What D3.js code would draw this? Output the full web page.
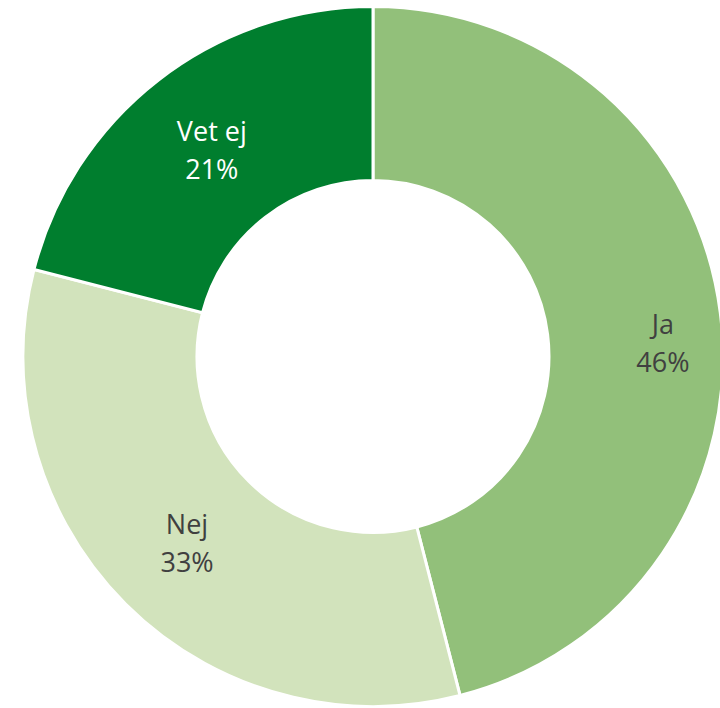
<!DOCTYPE html>
<html>
<head>
<meta charset="utf-8">
<script src="https://cdn.jsdelivr.net/npm/d3@7"></script>
<style>
  body { margin: 0; background: #fff; }
  svg text { font-family: "Open Sans", Lato, sans-serif; }
</style>
</head>
<body>
<div id="chart"></div>
<script>
var w = 720;
var h = 708;

var categories = ["Ja", "Nej", "Vet ej"];
var values = [46, 33, 21];
var colors = ["#92c07a", "#d2e3bc", "#007e2e"];
var textColors = ["#404040", "#404040", "#ffffff"];

var cx = 373, cy = 356.5;
var outerR = 350, innerR = 176;

// excel nudged the Ja label a bit
var labelNudge = [[29, 18], [0, 0], [0, 0]];

var data = categories.map(function (c, i) {
    return { name: c, value: values[i], i: i };
});

var svg = d3.select("#chart")
    .append("svg")
    .attr("width", w)
    .attr("height", h);

var pie = d3.pie()
    .sort(null)
    .value(function (d) { return d.value; });

var arc = d3.arc()
    .innerRadius(innerR)
    .outerRadius(outerR);

var labelArc = d3.arc()
    .innerRadius(263)
    .outerRadius(263);

var g = svg.append("g")
    .attr("transform", "translate(" + cx + "," + cy + ")");

var arcs = pie(data);

g.selectAll("path")
    .data(arcs)
    .enter()
    .append("path")
    .attr("d", arc)
    .attr("fill", function (d) { return colors[d.data.i]; })
    .attr("stroke", "#fff")
    .attr("stroke-width", 3);

var total = d3.sum(values);

var labels = g.selectAll("text")
    .data(arcs)
    .enter()
    .append("text")
    .attr("text-anchor", "middle")
    .attr("font-size", "27px")
    .attr("fill", function (d) { return textColors[d.data.i]; })
    .attr("transform", function (d) {
        var p = labelArc.centroid(d);
        var n = labelNudge[d.data.i];
        return "translate(" + (p[0] + n[0]) + "," + (p[1] + n[1]) + ")";
    });

labels.append("tspan")
    .attr("x", 0)
    .attr("y", -8)
    .text(function (d) { return d.data.name; });

labels.append("tspan")
    .attr("x", 0)
    .attr("y", 30)
    .text(function (d) { return Math.round(d.data.value / total * 100) + "%"; });
</script>
</body>
</html>
